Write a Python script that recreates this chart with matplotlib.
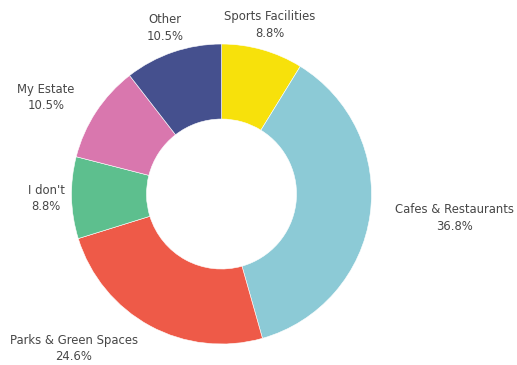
import numpy as np
import matplotlib
matplotlib.use("Agg")
import matplotlib.pyplot as plt

# survey shares, clockwise from 12 o'clock
categories = ["Sports Facilities", "Cafes & Restaurants", "Parks & Green Spaces",
              "I don't", "My Estate", "Other"]
shares = [8.8, 36.8, 24.6, 8.8, 10.5, 10.5]
colors = ["#f7e10b", "#8ccad6", "#ee5a48", "#5dbf8e", "#d977ae", "#45508e"]
label_align = ["center", "left", "right", "center", "right", "center"]

plt.rcParams["font.family"] = ["DejaVu Sans"]

fig = plt.figure(figsize=(5.17, 3.65), dpi=100)
ax = fig.add_axes([0.1383, 0.0575, 0.5803, 0.8219])

wedges, _ = ax.pie(shares, colors=colors, startangle=90, counterclock=False,
                   radius=1.0, wedgeprops=dict(width=0.5, edgecolor="white", linewidth=0.4))

# two-line labels just outside the ring
lab_r = 1.17
for w, name, val, ha in zip(wedges, categories, shares, label_align):
    mid = np.deg2rad((w.theta1 + w.theta2) / 2)
    x, y = lab_r * np.cos(mid), lab_r * np.sin(mid)
    ax.text(x, y, f"{name}\n{val}%", ha=ha, va="center", multialignment="center",
            fontsize=8.4, color="#474747", linespacing=1.35, clip_on=False)

ax.set_xlim(-1, 1)
ax.set_ylim(-1, 1)
ax.set_aspect("auto")
ax.axis("off")

fig.savefig("out.png", dpi=100)
